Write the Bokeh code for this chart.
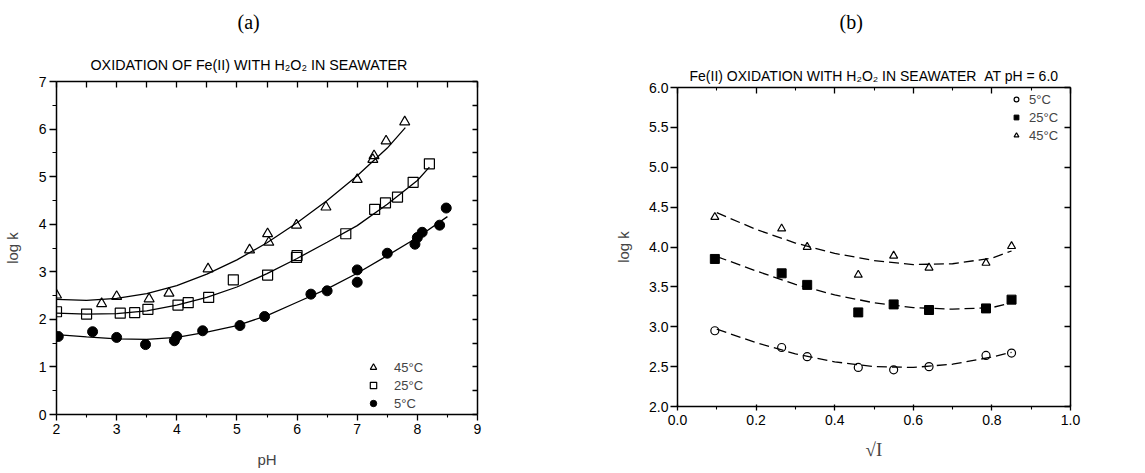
from bokeh.plotting import figure
from bokeh.models import (Range1d, LinearAxis, FixedTicker, Legend, LegendItem,
                          PrintfTickFormatter, Title)
from bokeh.layouts import row, column
from bokeh.embed import file_html
from bokeh.resources import INLINE

# ---------------- (a) data: log k vs pH ----------------
ph45 = [2.0, 2.75, 3.0, 3.54, 3.87, 4.52, 5.21, 5.51, 5.53, 5.99, 6.48, 7.0, 7.26, 7.28, 7.48, 7.79]
lk45 = [2.51, 2.33, 2.48, 2.43, 2.55, 3.06, 3.46, 3.80, 3.62, 3.98, 4.36, 4.94, 5.36, 5.44, 5.75, 6.15]
ph25 = [2.0, 2.5, 3.06, 3.30, 3.52, 4.02, 4.19, 4.53, 4.94, 5.51, 5.99, 6.0, 6.81, 7.29, 7.47, 7.67, 7.93, 8.20]
lk25 = [2.16, 2.11, 2.13, 2.14, 2.21, 2.30, 2.35, 2.46, 2.83, 2.93, 3.30, 3.34, 3.80, 4.31, 4.45, 4.57, 4.88, 5.27]
ph5 = [2.03, 2.6, 3.0, 3.48, 3.96, 4.0, 4.43, 5.05, 5.46, 6.23, 6.5, 7.0, 7.0, 7.5, 7.96, 8.0, 8.08, 8.37, 8.48]
lk5 = [1.64, 1.74, 1.62, 1.47, 1.55, 1.64, 1.76, 1.87, 2.06, 2.53, 2.60, 3.04, 2.78, 3.39, 3.58, 3.72, 3.83, 3.98, 4.34]

# fitted curves
fit45_x = [2.0, 2.5, 3.0, 3.5, 4.0, 4.5, 5.0, 5.5, 6.0, 6.5, 7.0, 7.5, 7.8]
fit45_y = [2.42, 2.40, 2.44, 2.54, 2.71, 2.95, 3.25, 3.61, 4.03, 4.50, 5.02, 5.60, 6.03]
fit25_x = [2.0, 2.5, 3.0, 3.5, 4.0, 4.5, 5.0, 5.5, 6.0, 6.5, 7.0, 7.5, 8.0, 8.2]
fit25_y = [2.13, 2.11, 2.12, 2.18, 2.30, 2.46, 2.68, 2.96, 3.28, 3.62, 3.97, 4.42, 4.92, 5.20]
fit5_x = [2.0, 2.5, 3.0, 3.5, 4.0, 4.5, 5.0, 5.5, 6.0, 6.5, 7.0, 7.5, 8.0, 8.5]
fit5_y = [1.68, 1.63, 1.59, 1.58, 1.62, 1.73, 1.87, 2.08, 2.36, 2.64, 2.97, 3.34, 3.72, 4.16]

ph_ticks = [2, 3, 4, 5, 6, 7, 8, 9]
ph_minor = [2.5, 3.5, 4.5, 5.5, 6.5, 7.5, 8.5]
lka_ticks = [0, 1, 2, 3, 4, 5, 6, 7]
lka_minor = [0.5, 1.5, 2.5, 3.5, 4.5, 5.5, 6.5]

# ---------------- (b) data: log k vs sqrt(I) at pH 6 ----------------
sqrtI = [0.095, 0.265, 0.33, 0.46, 0.55, 0.64, 0.785, 0.85]
b5 = [2.95, 2.74, 2.625, 2.49, 2.46, 2.50, 2.64, 2.67]
b25 = [3.85, 3.67, 3.525, 3.18, 3.28, 3.21, 3.23, 3.34]
b45 = [4.375, 4.23, 4.00, 3.65, 3.89, 3.74, 3.80, 4.01]

fitb_x = [0.1, 0.2, 0.3, 0.4, 0.5, 0.6, 0.7, 0.8, 0.85]
fitb5_y = [2.97, 2.80, 2.66, 2.56, 2.50, 2.49, 2.53, 2.62, 2.68]
fitb25_y = [3.88, 3.70, 3.53, 3.40, 3.30, 3.24, 3.22, 3.24, 3.30]
fitb45_y = [4.43, 4.22, 4.05, 3.92, 3.83, 3.78, 3.79, 3.86, 3.95]

si_ticks = [0.0, 0.2, 0.4, 0.6, 0.8, 1.0]
si_minor = [0.1, 0.3, 0.5, 0.7, 0.9]
lkb_ticks = [2.0, 2.5, 3.0, 3.5, 4.0, 4.5, 5.0, 5.5, 6.0]

SANS = "Liberation Sans"
SERIF = "Liberation Serif"


def style_axis(ax, tick_out, tick_in, minor_out, minor_in):
    ax.axis_line_width = 1.5
    ax.axis_line_color = "black"
    ax.major_tick_line_color = "black"
    ax.minor_tick_line_color = "black"
    ax.major_tick_line_width = 1.3
    ax.minor_tick_line_width = 1.1
    ax.major_tick_out = tick_out
    ax.major_tick_in = tick_in
    ax.minor_tick_out = minor_out
    ax.minor_tick_in = minor_in
    ax.major_label_text_font = SANS
    ax.major_label_text_font_size = "14px"
    ax.major_label_text_color = "black"


def blank_axis(ticks, minor, tin, tmin):
    ax = LinearAxis(ticker=FixedTicker(ticks=ticks, minor_ticks=minor))
    style_axis(ax, 0, tin, 0, tmin)
    ax.major_label_text_color = None
    ax.major_label_text_font_size = "0px"
    ax.major_label_standoff = 0
    return ax


def add_title(p, text, font, size, standoff, offset):
    p.add_layout(Title(text=text, align="left", offset=offset, standoff=standoff,
                       text_font=font, text_font_size=size, text_font_style="normal",
                       text_color="black"), "above")


# ================= panel (a) =================
p1 = figure(width=560, height=473, x_range=Range1d(2, 9), y_range=Range1d(0, 7),
            title=None, output_backend="svg", toolbar_location=None,
            min_border_left=55, min_border_right=83, min_border_top=81, min_border_bottom=59)
p1.grid.visible = False
p1.outline_line_color = None
p1.background_fill_color = "white"
p1.border_fill_color = "white"

p1.xaxis.ticker = FixedTicker(ticks=ph_ticks, minor_ticks=ph_minor)
p1.yaxis.ticker = FixedTicker(ticks=lka_ticks, minor_ticks=lka_minor)
style_axis(p1.xaxis[0], 6, 0, 3, 0)
style_axis(p1.yaxis[0], 7, 0, 4, 0)
p1.xaxis.major_label_standoff = 3
p1.yaxis.major_label_standoff = 3
p1.xaxis.axis_label = "pH"
p1.yaxis.axis_label = "log k"
for ax in (p1.xaxis[0], p1.yaxis[0]):
    ax.axis_label_text_font = SANS
    ax.axis_label_text_font_size = "15px"
    ax.axis_label_text_font_style = "normal"
p1.xaxis.axis_label_standoff = 14
p1.yaxis.axis_label_standoff = 15

p1.add_layout(blank_axis(ph_ticks + ph_minor, [], 6, 0), "above")
p1.add_layout(blank_axis(lka_ticks + lka_minor, [], 5, 0), "right")
add_title(p1, "OXIDATION OF Fe(II) WITH H₂O₂ IN SEAWATER", SANS, "14.3px", 18, 34)
add_title(p1, " ", SANS, "1px", 2, 0)
add_title(p1, "(a)", SERIF, "20px", 16, 181)

p1.line(fit45_x, fit45_y, line_color="black", line_width=1.3)
p1.line(fit25_x, fit25_y, line_color="black", line_width=1.3)
p1.line(fit5_x, fit5_y, line_color="black", line_width=1.3)
r45 = p1.scatter(ph45, lk45, marker="triangle", size=10, fill_color=None, line_color="black", line_width=1.2)
r25 = p1.scatter(ph25, lk25, marker="square", size=10, fill_color=None, line_color="black", line_width=1.2)
r5 = p1.scatter(ph5, lk5, marker="circle", size=10, fill_color="black", line_color="black")

leg1 = Legend(items=[LegendItem(label="45°C", renderers=[r45]),
                     LegendItem(label="25°C", renderers=[r25]),
                     LegendItem(label="5°C", renderers=[r5])],
              location=(307, 3), padding=0, margin=0, spacing=2,
              label_height=16, glyph_height=16, glyph_width=20, label_standoff=11,
              border_line_color=None, background_fill_alpha=0,
              label_text_font=SANS, label_text_font_size="13px")
p1.add_layout(leg1, "center")

# ================= panel (b) =================
p2 = figure(width=585, height=473, x_range=Range1d(0, 1), y_range=Range1d(2, 6),
            title=None, output_backend="svg", toolbar_location=None,
            min_border_left=117, min_border_right=75, min_border_top=86, min_border_bottom=67)
p2.grid.visible = False
p2.outline_line_color = None
p2.background_fill_color = "white"
p2.border_fill_color = "white"

p2.xaxis.ticker = FixedTicker(ticks=si_ticks, minor_ticks=si_minor)
p2.yaxis.ticker = FixedTicker(ticks=lkb_ticks, minor_ticks=[])
style_axis(p2.xaxis[0], 4, 2, 3, 0)
style_axis(p2.yaxis[0], 7, 0, 0, 0)
p2.xaxis.formatter = PrintfTickFormatter(format="%.1f")
p2.yaxis.formatter = PrintfTickFormatter(format="%.1f")
p2.xaxis.major_label_standoff = 4
p2.yaxis.major_label_standoff = 2
p2.xaxis.axis_label = "√I"
p2.yaxis.axis_label = "log k"
p2.xaxis.axis_label_text_font = SERIF
p2.xaxis.axis_label_text_font_size = "19px"
p2.yaxis.axis_label_text_font = SANS
p2.yaxis.axis_label_text_font_size = "15px"
p2.xaxis.axis_label_text_font_style = "normal"
p2.yaxis.axis_label_text_font_style = "normal"
p2.xaxis.axis_label_standoff = 11
p2.yaxis.axis_label_standoff = 14

p2.add_layout(blank_axis(si_ticks, si_minor, 6, 3), "above")
p2.add_layout(blank_axis(lkb_ticks, [], 6, 0), "right")
add_title(p2, "Fe(II) OXIDATION WITH H₂O₂ IN SEAWATER\u00a0\u00a0AT pH = 6.0", SANS, "14px", 7, 12)
add_title(p2, " ", SANS, "1px", 19, 0)
add_title(p2, "(b)", SERIF, "20px", 16, 162)

for fy in (fitb5_y, fitb25_y, fitb45_y):
    p2.line(fitb_x, fy, line_color="black", line_width=1.3, line_dash="10 5")
s5 = p2.scatter(sqrtI, b5, marker="circle", size=8, fill_color=None, line_color="black", line_width=1.2)
s25 = p2.scatter(sqrtI, b25, marker="square", size=9, fill_color="black", line_color="black")
s45 = p2.scatter(sqrtI, b45, marker="triangle", size=8, fill_color=None, line_color="black", line_width=1.2)

leg2 = Legend(items=[LegendItem(label="5°C", renderers=[s5]),
                     LegendItem(label="25°C", renderers=[s25]),
                     LegendItem(label="45°C", renderers=[s45])],
              location=(333, 263), padding=0, margin=0, spacing=2,
              label_height=16, glyph_height=16, glyph_width=12, label_standoff=7,
              border_line_color=None, background_fill_alpha=0,
              label_text_font=SANS, label_text_font_size="13px")
p2.add_layout(leg2, "center")

layout = row(column(p1), column(p2))
open("out.html", "w").write(file_html(layout, INLINE))
